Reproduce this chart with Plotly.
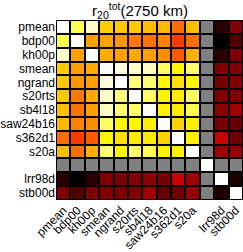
import numpy as np
import plotly.graph_objects as go

labels = ["pmean", "bdp00", "kh00p", "smean", "ngrand", "s20rts", "sb4l18",
          "saw24b16", "s362d1", "s20a", "", "lrr98d", "stb00d"]

N = None
r_pmean    = [1.0, .828, .946, .676, .669, .669, .654, .647, .537, .654, N, .059, .188]
r_bdp00    = [.828, 1.0, .610, .610, .596, .551, .544, .566, .463, .537, N, 0.0, .118]
r_kh00p    = [.946, .610, 1.0, .625, .610, .625, .610, .585, .507, .632, N, .059, .188]
r_smean    = [.676, .610, .625, 1.0, .966, .946, .936, .848, .735, .858, N, .188, .188]
r_ngrand   = [.669, .596, .610, .966, 1.0, .868, .858, .735, .706, .740, N, .176, .188]
r_s20rts   = [.669, .551, .625, .946, .868, 1.0, .848, .735, .720, .848, N, .188, .188]
r_sb4l18   = [.654, .544, .610, .936, .858, .848, 1.0, .728, .720, .828, N, .200, .235]
r_saw24b16 = [.647, .566, .585, .848, .735, .735, .728, 1.0, .684, .728, N, .176, .147]
r_s362d1   = [.537, .463, .507, .735, .706, .720, .720, .684, 1.0, .728, N, .294, .162]
r_s20a     = [.654, .537, .632, .858, .740, .848, .828, .728, .728, 1.0, N, .235, .220]
r_blank    = [N, N, N, N, N, N, N, N, N, N, 1.0, N, N]
r_lrr98d   = [.059, 0.0, .059, .188, .176, .188, .200, .176, .294, .235, N, 1.0, .044]
r_stb00d   = [.188, .118, .188, .188, .188, .188, .235, .147, .162, .220, N, .044, 1.0]

rows = [r_pmean, r_bdp00, r_kh00p, r_smean, r_ngrand, r_s20rts, r_sb4l18,
        r_saw24b16, r_s362d1, r_s20a, r_blank, r_lrr98d, r_stb00d]

n = len(labels)
idx = list(range(n))
z = [[np.nan if v is None else v for v in row] for row in rows]

hot = [[0.0, "rgb(0,0,0)"], [0.375, "rgb(255,0,0)"],
       [0.75, "rgb(255,255,0)"], [1.0, "rgb(255,255,255)"]]

fig = go.Figure()
# gray underlay for missing cells
fig.add_trace(go.Heatmap(x=idx, y=idx, z=[[0] * n for _ in range(n)],
                         colorscale=[[0, "rgb(128,128,128)"], [1, "rgb(128,128,128)"]],
                         showscale=False, xgap=2, ygap=2, hoverinfo="skip"))
fig.add_trace(go.Heatmap(x=idx, y=idx, z=z, colorscale=hot, zmin=0, zmax=1,
                         showscale=False, xgap=2, ygap=2))

font = dict(family="Liberation Sans, Arial, sans-serif", size=12, color="black")
fig.update_layout(
    width=243, height=252,
    margin=dict(l=55, r=0, t=20, b=46),
    paper_bgcolor="white", plot_bgcolor="black",
    font=font,
    title=dict(text="r<sub>20</sub><sup>tot</sup>(2750 km)",
               font=dict(family="Liberation Sans, Arial, sans-serif", size=15, color="black"),
               x=140 / 243, xanchor="center", xref="container",
               y=1 - 11 / 252, yanchor="middle", yref="container"),
    xaxis=dict(tickvals=idx, ticktext=labels, tickangle=-45, range=[-0.5, n - 0.5],
               showgrid=False, zeroline=False, ticks="", tickfont=font),
    yaxis=dict(tickvals=idx, ticktext=labels, range=[n - 0.5, -0.5],
               showgrid=False, zeroline=False, ticks="", tickfont=font),
)

fig.write_html("out.html")
